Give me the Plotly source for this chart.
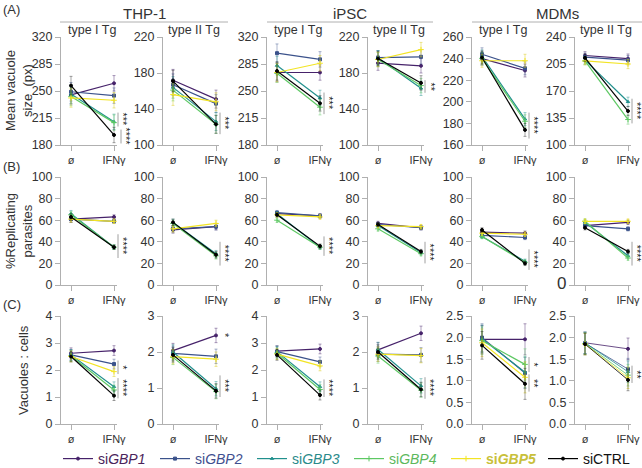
import plotly.graph_objects as go

W, H = 642, 468
FONT = "Liberation Sans, Arial, sans-serif"

conditions = ["ø", "IFNγ"]
series_names = ["siGBP1", "siGBP2", "siGBP3", "siGBP4", "siGBP5", "siCTRL"]
legend_labels = [
    '<span style="color:#4a235a">si<i>GBP1</i></span>',
    '<span style="color:#3f4f8f">si<i>GBP2</i></span>',
    '<span style="color:#2a8a8a">si<i>GBP3</i></span>',
    '<span style="color:#5cb85c">si<i>GBP4</i></span>',
    '<span style="color:#c8c03a"><b>si<i>GBP5</i></b></span>',
    '<span style="color:#111111">siCTRL</span>',
]
colors = ["#46226a", "#3b528b", "#21908d", "#5dc863", "#f2e424", "#000000"]
err_colors = ["rgba(70,34,106,0.55)", "rgba(59,82,139,0.55)", "rgba(33,144,141,0.55)",
              "rgba(93,200,99,0.55)", "rgba(220,205,30,0.6)", "rgba(0,0,0,0.45)"]
symbols = ["circle", "square", "triangle-up", "cross-thin", "cross-thin", "circle"]

cell_types = ["THP-1", "iPSC", "MDMs"]
strains = ["type I Tg", "type II Tg"]

# Row A: mean vacuole size (px); each entry = [ø, IFNγ] for siGBP1..5, siCTRL
A_THP1_I = [[245, 260], [249, 244], [246, 210], [243, 209], [241, 238], [257, 193]]
A_THP1_II = [[172, 151], [167, 146], [164, 126], [161, 123], [156, 148], [171, 123]]
A_iPSC_I = [[274, 274], [299, 291], [283, 241], [273, 229], [274, 286], [276, 234]]
A_iPSC_II = [[191, 188], [197, 198], [197, 163], [195, 166], [195, 206], [196, 169]]
A_MDM_I = [[240, 229], [244, 231], [242, 184], [240, 182], [238, 238], [241, 174]]
A_MDM_II = [[216, 212], [214, 210], [210, 156], [209, 133], [209, 205], [213, 144]]

# Row B: % replicating parasites
B_THP1_I = [[61, 63], [61, 59], [66, 35], [65, 35], [61, 59], [63, 35]]
B_THP1_II = [[51, 54], [52, 54], [58, 29], [57, 27], [52, 57], [58, 28]]
B_iPSC_I = [[66, 64], [67, 64], [66, 35], [60, 35], [65, 63], [65, 36]]
B_iPSC_II = [[57, 53], [56, 53], [55, 30], [52, 29], [55, 54], [56, 31]]
B_MDM_I = [[49, 48], [46, 44], [45, 22], [45, 21], [48, 47], [51, 20]]
B_MDM_II = [[55, 58], [55, 52], [58, 27], [59, 25], [59, 59], [53, 31]]

# Row C: vacuoles : cells
C_THP1_I = [[2.62, 2.72], [2.56, 2.22], [2.56, 1.38], [2.52, 1.26], [2.5, 1.94], [2.5, 1.05]]
C_THP1_II = [[2.04, 2.46], [1.96, 1.88], [2.0, 0.98], [1.85, 0.9], [1.87, 1.8], [1.92, 0.92]]
C_iPSC_I = [[2.7, 2.78], [2.68, 2.3], [2.68, 1.38], [2.62, 1.28], [2.59, 2.15], [2.56, 1.07]]
C_iPSC_II = [[2.06, 2.52], [1.94, 1.92], [2.07, 1.06], [1.89, 0.94], [1.94, 1.9], [2.0, 0.96]]
C_MDM_I = [[1.96, 1.96], [2.0, 1.18], [1.97, 1.2], [1.93, 1.38], [1.88, 1.08], [1.82, 0.93]]
C_MDM_II = [[1.88, 1.74], [1.87, 1.27], [1.88, 1.21], [1.86, 1.13], [1.85, 1.07], [1.85, 1.02]]

# error bar half-widths per panel [ø, IFNγ]
A_ERR = [[12, 10], [12, 10], [12, 10], [8, 8], [6, 6], [5, 6]]
B_ERR = [[3, 2], [3, 3], [2, 2], [2, 2], [2, 2], [2, 2]]
C_ERR = [[0.2, 0.18], [0.2, 0.2], [0.2, 0.18], [0.2, 0.2], [0.32, 0.36], [0.25, 0.25]]

rows = [
    [A_THP1_I, A_THP1_II, A_iPSC_I, A_iPSC_II, A_MDM_I, A_MDM_II],
    [B_THP1_I, B_THP1_II, B_iPSC_I, B_iPSC_II, B_MDM_I, B_MDM_II],
    [C_THP1_I, C_THP1_II, C_iPSC_I, C_iPSC_II, C_MDM_I, C_MDM_II],
]
errs = [A_ERR, B_ERR, C_ERR]

y_ranges = [
    [(180, 320, 35), (100, 220, 40), (180, 320, 35), (100, 220, 40), (160, 260, 20), (100, 240, 35)],
    [(0, 100, 20)] * 6,
    [(0, 4, 1), (0, 3, 1), (0, 4, 1), (0, 3, 1), (0, 2.5, 0.5), (0, 2.5, 0.5)],
]
y_titles = ["Mean vacuole<br>size  (px)", "%Replicating<br>parasites", "Vacuoles : cells"]
panel_labels = ["(A)", "(B)", "(C)"]

# significance marks: (y_top, y_bottom, text, draw_line)
sig = [
    [[(222, 204, "***", True), (200, 182, "****", True)], [(136, 112, "***", True)],
     [(248, 220, "***", True)], [(172, 158, "**", True)], [(190, 166, "****", True)],
     [(160, 128, "****", True)]],
    [[(47, 25, "****", True)], [(40, 18, "****", True)], [(45, 27, "****", True)],
     [(40, 20, "****", True)], [(33, 14, "****", True)], [(40, 18, "****", True)]],
    [[(2.35, 1.85, "*", True), (1.7, 0.95, "****", True)], [(2.6, 2.34, "*", False), (1.35, 0.75, "***", True)],
     [(1.65, 1.0, "****", True)], [(1.3, 0.7, "****", True)],
     [(1.55, 1.2, "*", True), (1.15, 0.75, "**", True)], [(1.35, 0.95, "**", True)]],
]

# layout geometry (pixels)
col_x0 = [61, 163, 267, 368, 472, 575]
PW = 56
row_top = [37, 177, 316]
row_bot = [145, 285, 424]
PX_PER_UNIT = 43.0
xr = [-10 / PX_PER_UNIT, (PW - 10) / PX_PER_UNIT]

AX_COL = "#b0b0b0"
TXT = "#333333"

fig = go.Figure()
layout = dict(
    width=W, height=H, margin=dict(l=0, r=0, t=0, b=0, autoexpand=False),
    paper_bgcolor="white", plot_bgcolor="white",
    font=dict(family=FONT, size=12, color=TXT),
)
annotations = []
shapes = []

for r in range(3):
    for c in range(6):
        idx = r * 6 + c + 1
        xa = "x" if idx == 1 else f"x{idx}"
        ya = "y" if idx == 1 else f"y{idx}"
        data = rows[r][c]
        e = errs[r][c]
        for s in range(6):
            fig.add_trace(go.Scatter(
                x=[0, 1], y=data[s], xaxis=xa, yaxis=ya,
                mode="lines+markers", name=legend_labels[s],
                legendgroup=series_names[s], showlegend=(idx == 1),
                line=dict(color=colors[s], width=1.2 if not (r == 2 and c == 5) else 0.8),
                marker=dict(symbol=symbols[s], size=3 if symbols[s] != "cross-thin" else 4,
                            color=colors[s], line=dict(color=colors[s], width=1)),
                error_y=dict(type="data", array=e, color=err_colors[s], thickness=0.8, width=1.5),
                cliponaxis=False,
            ))
        lo, hi, dt = y_ranges[r][c]
        xd = [col_x0[c] / W, (col_x0[c] + PW) / W]
        yd = [1 - row_bot[r] / H, 1 - row_top[r] / H]
        layout["xaxis" if idx == 1 else f"xaxis{idx}"] = dict(
            domain=xd, range=xr, anchor=ya, tickmode="array", tickvals=[0, 1], ticktext=conditions,
            showline=True, linecolor=AX_COL, linewidth=1, ticks="outside", ticklen=5,
            tickcolor=AX_COL, showgrid=False, zeroline=False, tickfont=dict(size=11, color=TXT),
        )
        yax = dict(
            domain=yd, range=[lo, hi], anchor=xa, tick0=lo, dtick=dt,
            showline=True, linecolor=AX_COL, linewidth=1, ticks="outside", ticklen=5,
            tickcolor=AX_COL, showgrid=False, zeroline=False, tickfont=dict(size=12.5, color=TXT),
        )
        if r == 2 and c >= 4:
            yax["tickformat"] = ".1f"
        if r == 1 and c == 5:
            tv = [0, 20, 40, 60, 80, 100]
            yax.update(tickmode="array", tickvals=tv,
                       ticktext=['<span style="font-size:17px">0</span>'] + [str(v) for v in tv[1:]])
        layout["yaxis" if idx == 1 else f"yaxis{idx}"] = yax

        # significance
        ifn_px = col_x0[c] + 10 + PX_PER_UNIT
        for k, (yt, yb, txt, dl) in enumerate(sig[r][c]):
            xoff = 4 + (3 if (r == 0 and c == 0 and k == 1) else 0)
            if dl:
                shapes.append(dict(
                    type="line", xref="paper", yref=f"{ya} domain",
                    x0=(ifn_px + xoff) / W, x1=(ifn_px + xoff) / W,
                    y0=(yb - lo) / (hi - lo), y1=(yt - lo) / (hi - lo),
                    line=dict(color="#888888", width=0.8),
                ))
            annotations.append(dict(
                xref="paper", yref=ya, x=(ifn_px + xoff + 5) / W, y=(yt + yb) / 2,
                text=txt, textangle=90, showarrow=False, xanchor="center", yanchor="middle",
                font=dict(size=11, color="#222222"),
            ))

        if r == 0:
            annotations.append(dict(
                xref="paper", yref="paper", x=(col_x0[c] + PW / 2 + 3) / W, y=1 - 30 / H,
                text=strains[c % 2], showarrow=False, xanchor="center", yanchor="middle",
                font=dict(size=12.5, color=TXT),
            ))

# cell type headers
headers = [("THP-1", 60, 228), ("iPSC", 267, 433), ("MDMs", 472, 642)]
for name, a, b in headers:
    shapes.append(dict(type="line", xref="paper", yref="paper", x0=a / W, x1=b / W,
                       y0=1 - 22 / H, y1=1 - 22 / H, line=dict(color=AX_COL, width=1)))
    annotations.append(dict(xref="paper", yref="paper", x=((a + b) / 2) / W, y=1 - 13 / H,
                            text=name, showarrow=False, xanchor="center", yanchor="middle",
                            font=dict(size=15, color=TXT)))

# y titles and panel labels
title_x = [19, 19, 23]
for r in range(3):
    cy = (row_top[r] + row_bot[r]) / 2
    annotations.append(dict(xref="paper", yref="paper", x=title_x[r] / W, y=1 - cy / H,
                            text=y_titles[r], textangle=-90, showarrow=False,
                            xanchor="center", yanchor="middle", font=dict(size=13, color=TXT)))
labels_y = [9, 166, 304]
for r in range(3):
    annotations.append(dict(xref="paper", yref="paper", x=1 / W, y=1 - labels_y[r] / H,
                            text=panel_labels[r], showarrow=False, xanchor="left", yanchor="middle",
                            font=dict(size=13, color=TXT)))

layout["annotations"] = annotations
layout["shapes"] = shapes
layout["legend"] = dict(
    orientation="h", x=58 / W, y=1 - 459 / H, xanchor="left", yanchor="middle",
    entrywidth=52, entrywidthmode="pixels", font=dict(size=14, color=TXT),
    bgcolor="rgba(0,0,0,0)", itemwidth=30, tracegroupgap=0,
)
fig.update_layout(**layout)
fig.write_html("out.html", config={"displayModeBar": False},
               post_script="document.body.style.margin='0';document.body.style.overflow='hidden';")
